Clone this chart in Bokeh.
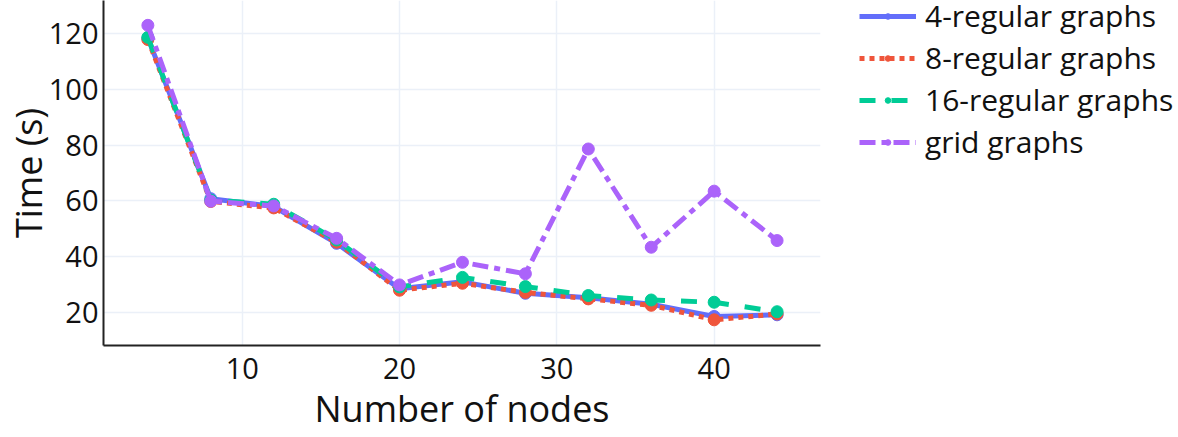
from bokeh.plotting import figure
from bokeh.models import Range1d, Legend, LegendItem, FixedTicker
from bokeh.embed import file_html
from bokeh.resources import INLINE

nodes = [4, 8, 12, 16, 20, 24, 28, 32, 36, 40, 44]
reg4 = [118.3, 60.8, 58.0, 44.8, 28.5, 31.0, 26.9, 25.3, 23.0, 18.6, 19.2]
reg8 = [117.8, 59.8, 57.5, 45.2, 28.0, 30.5, 27.2, 24.9, 22.6, 17.4, 19.5]
reg16 = [118.6, 60.3, 58.8, 46.0, 29.2, 32.6, 29.3, 26.1, 24.5, 23.7, 20.3]
grid = [122.9, 59.9, 58.2, 46.6, 29.9, 38.0, 33.9, 78.6, 43.4, 63.5, 45.8]

series = [
    ("4-regular graphs", reg4, "#636efa", "solid"),
    ("8-regular graphs", reg8, "#EF553B", "5 5"),
    ("16-regular graphs", reg16, "#00cc96", "16 16"),
    ("grid graphs", grid, "#ab63fa", "16 6 6 6"),
]

FONT = "Open Sans"
TXT = "#111111"

p = figure(frame_width=717, frame_height=345, output_backend="svg", toolbar_location=None,
           x_range=Range1d(1.18, 46.76), y_range=Range1d(8.2, 131.8),
           min_border_left=0, min_border_right=0, min_border_top=0, min_border_bottom=0)
p.outline_line_color = None
p.background_fill_color = "white"

for ax in (p.xaxis[0], p.yaxis[0]):
    ax.axis_line_color = "#222222"
    ax.axis_line_width = 2
    ax.major_tick_line_color = None
    ax.minor_tick_line_color = None
    ax.major_tick_out = 0
    ax.major_tick_in = 0
    ax.minor_tick_out = 0
    ax.minor_tick_in = 0
    ax.major_label_text_font = FONT
    ax.major_label_text_font_size = "29px"
    ax.major_label_text_color = TXT
    ax.axis_label_text_font = FONT
    ax.axis_label_text_font_size = "36px"
    ax.axis_label_text_font_style = "normal"
    ax.axis_label_text_color = TXT

p.xaxis.ticker = FixedTicker(ticks=[10, 20, 30, 40])
p.yaxis.ticker = FixedTicker(ticks=[20, 40, 60, 80, 100, 120])
p.xaxis.axis_label = "Number of nodes"
p.yaxis.axis_label = "Time (s)"
p.xaxis.major_label_standoff = 12
p.yaxis.major_label_standoff = 5
p.xaxis.axis_label_standoff = 2
p.yaxis.axis_label_standoff = -7

p.xgrid.grid_line_color = "#EBF0F8"
p.ygrid.grid_line_color = "#EBF0F8"
p.xgrid.grid_line_width = 1.5
p.ygrid.grid_line_width = 1.5

items = []
for name, ys, color, dash in series:
    ln = p.line(nodes, ys, line_color=color, line_width=5, line_dash=dash)
    sc = p.scatter(nodes, ys, size=12, fill_color=color, line_color=color)
    items.append(LegendItem(label=name, renderers=[ln, sc]))

legend = Legend(items=items, location=(39, 183))
legend.label_text_font = FONT
legend.label_text_font_size = "30px"
legend.label_text_color = TXT
legend.glyph_width = 57
legend.glyph_height = 14
legend.label_height = 14
legend.label_standoff = 9
legend.spacing = 1
legend.padding = 0
legend.margin = 20
legend.border_line_color = None
legend.background_fill_alpha = 0
p.add_layout(legend, "right")

open("out.html", "w").write(file_html(p, INLINE))
